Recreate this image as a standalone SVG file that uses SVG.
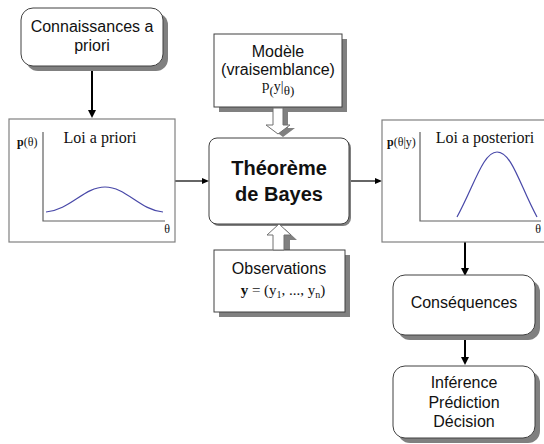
<svg xmlns="http://www.w3.org/2000/svg" width="544" height="444" viewBox="0 0 544 444">
<style>
.box{fill:#fff;stroke:#404040;stroke-width:1}
.shadow{fill:#808080}
.frame{fill:#fff;stroke:#808080;stroke-width:1.2}
.axis{fill:none;stroke:#606060;stroke-width:1.2}
.curve{fill:none;stroke:#4848a8;stroke-width:1.2}
.sans{font-family:"Liberation Sans",Arial,sans-serif;font-size:16px;fill:#111;text-anchor:middle}
.bold{font-family:"Liberation Sans",Arial,sans-serif;font-size:20px;font-weight:bold;fill:#111;text-anchor:middle}
.serif{font-family:"Liberation Serif","Times New Roman",serif;fill:#111}
.conn{stroke:#000;fill:none}
.head{fill:#000}
.block{fill:#fff;stroke:#707070;stroke-width:1}
</style>
<g id="connectors">
<line class="conn" x1="92" y1="66" x2="92" y2="111" stroke-width="2"/>
<polygon class="head" points="88,110 96,110 92,118"/>
<line class="conn" x1="175" y1="181" x2="203" y2="181" stroke-width="1.2"/>
<polygon class="head" points="202,178 209,181 202,184"/>
<line class="conn" x1="349" y1="181" x2="376" y2="181" stroke-width="1.2"/>
<polygon class="head" points="375,178 382,181 375,184"/>
<line class="conn" x1="465" y1="242" x2="465" y2="269" stroke-width="2"/>
<polygon class="head" points="461,268 469,268 465,276"/>
<line class="conn" x1="465" y1="335" x2="465" y2="358" stroke-width="2"/>
<polygon class="head" points="461,357 469,357 465,365"/>
</g>
<g id="connaissances">
<rect class="shadow" x="26" y="13" width="142" height="58" rx="12"/>
<rect class="box" x="21" y="8" width="142" height="58" rx="12"/>
<text class="sans" x="92" y="32">Connaissances a</text>
<text class="sans" x="92" y="51">priori</text>
</g>
<g id="loi-priori">
<rect class="frame" x="9" y="119" width="166" height="123"/>
<polyline class="axis" points="43,132 43,221 165,221"/>
<path class="curve" d="M46,212 C70,210 84,187 105,187 C126,187 140,210 163,212"/>
<text class="serif" x="17" y="146" font-size="12"><tspan font-weight="bold">p</tspan>(θ)</text>
<text class="serif" x="100" y="143" font-size="16" text-anchor="middle">Loi a priori</text>
<text class="serif" x="167" y="233" font-size="12" text-anchor="middle">θ</text>
</g>
<g id="modele">
<rect class="shadow" x="219" y="39" width="128" height="73"/>
<rect class="box" x="214" y="34" width="128" height="73"/>
<text class="sans" x="278" y="57">Modèle</text>
<text class="sans" x="278" y="75">(vraisemblance)</text>
<text class="serif" x="262" y="90" font-size="15">p<tspan font-size="13" dy="5">(</tspan><tspan font-size="14" dy="-4">y|</tspan><tspan font-size="13" dy="4">θ)</tspan></text>
<polygon class="shadow" points="278,111 288,111 288,128 295,128 283,137 271,128 278,128"/>
<polygon class="block" points="273,108 283,108 283,125 290,125 278,134 266,125 273,125"/>
</g>
<g id="bayes">
<rect class="shadow" x="211" y="140" width="140" height="86" rx="8"/>
<rect class="box" x="209" y="138" width="140" height="86" rx="8"/>
<text class="bold" x="279" y="175">Théorème</text>
<text class="bold" x="279" y="201">de Bayes</text>
</g>
<g id="observations">
<polygon class="shadow" points="279,254 285,254 291,258 291,254 291,250 279,250"/>
<polygon class="shadow" points="279,254 279,250 290,250 290,240 297,240 285,229 273,240 279,240"/>
<rect class="shadow" x="219" y="255" width="131" height="62"/>
<rect class="box" x="214" y="250" width="131" height="62"/>
<polygon class="block" points="273,250 273,235 267,235 279,224 291,235 284,235 284,250"/>
<text class="sans" x="279" y="274">Observations</text>
<text class="serif" x="283" y="295" font-size="15" text-anchor="middle"><tspan font-weight="bold">y</tspan> = (y<tspan font-size="10" dy="3">1</tspan><tspan dy="-3">, ..., y</tspan><tspan font-size="10" dy="3">n</tspan><tspan dy="-3">)</tspan></text>
</g>
<g id="loi-posteriori">
<rect class="frame" x="382" y="120" width="172" height="122"/>
<polyline class="axis" points="420,132 420,221 541,221"/>
<path class="curve" d="M457,217 C474,186 483,152 497,152 C512,152 520,186 537,217"/>
<text class="serif" x="387" y="146" font-size="12"><tspan font-weight="bold">p</tspan>(θ|y)</text>
<text class="serif" x="485" y="143" font-size="16" text-anchor="middle">Loi a posteriori</text>
<text class="serif" x="538" y="233" font-size="12" text-anchor="middle">θ</text>
</g>
<g id="consequences">
<rect class="shadow" x="398" y="280" width="142" height="60" rx="12"/>
<rect class="box" x="393" y="275" width="142" height="60" rx="12"/>
<text class="sans" x="464" y="308">Conséquences</text>
</g>
<g id="inference">
<rect class="shadow" x="398" y="371" width="142" height="72" rx="12"/>
<rect class="box" x="393" y="366" width="142" height="72" rx="12"/>
<text class="sans" x="464" y="388">Inférence</text>
<text class="sans" x="464" y="408">Prédiction</text>
<text class="sans" x="464" y="427">Décision</text>
</g>
</svg>
